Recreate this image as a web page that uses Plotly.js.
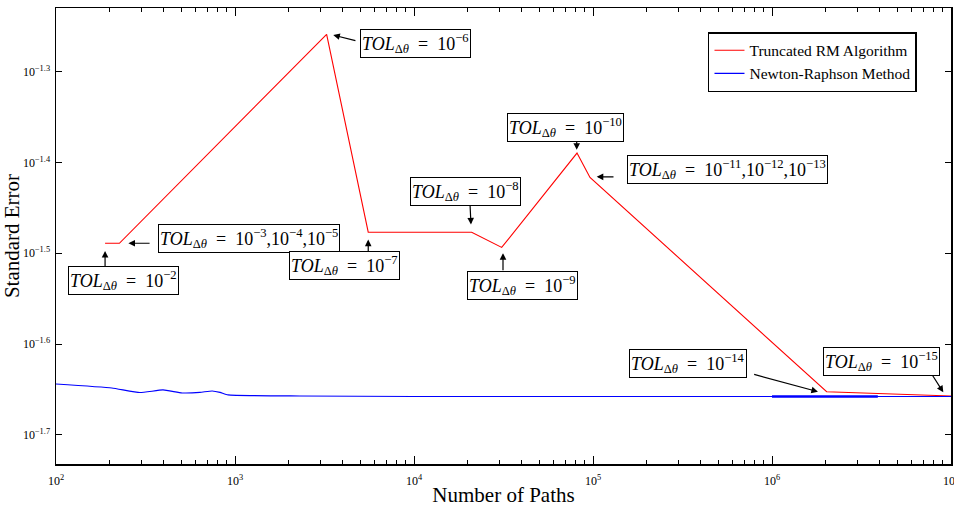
<!DOCTYPE html>
<html>
<head>
<meta charset="utf-8">
<script src="https://cdn.plot.ly/plotly-3.0.1.min.js"></script>
<style>
  html, body { margin: 0; padding: 0; background: #fff; }
  #chart { width: 954px; height: 507px; }
</style>
</head>
<body>
<div id="chart"></div>
<script>
// Standard error of the estimator versus the number of simulated paths.
const rmPaths = [188, 226, 3250, 5550, 21000, 30900, 81400, 96200, 2020000, 10000000];
const rmError = [0.03243, 0.03243, 0.05508, 0.03335, 0.03335, 0.03209, 0.04076, 0.03832, 0.02226, 0.02202];

const nrPaths = [100, 205, 294, 396, 506, 637, 745, 825, 914, 2300, 10000, 100000, 1000000, 10000000];
const nrError = [0.02270, 0.02247, 0.02221, 0.02236, 0.02219, 0.02222, 0.02230, 0.02222, 0.02208, 0.02202, 0.02199, 0.02199, 0.02199, 0.02199];

// Dense stretch of the Newton-Raphson run
const nrDensePaths = [1000000, 3900000];
const nrDenseError = [0.02199, 0.02199];

// Tolerance reached at each marked point of the RM curve
const tolLabels = [
  '10<sup>−2</sup>',
  '10<sup>−3</sup>,10<sup>−4</sup>,10<sup>−5</sup>',
  '10<sup>−6</sup>',
  '10<sup>−7</sup>',
  '10<sup>−8</sup>',
  '10<sup>−9</sup>',
  '10<sup>−10</sup>',
  '10<sup>−11</sup>,10<sup>−12</sup>,10<sup>−13</sup>',
  '10<sup>−14</sup>',
  '10<sup>−15</sup>'
];

const xTickVals = [1e2, 1e3, 1e4, 1e5, 1e6, 1e7];
const xTickText = ['10<sup>2</sup>', '10<sup>3</sup>', '10<sup>4</sup>', '10<sup>5</sup>', '10<sup>6</sup>', '10<sup>7</sup>'];
const yTickVals = [-1.3, -1.4, -1.5, -1.6, -1.7].map(e => Math.pow(10, e));
const yTickText = ['10<sup>−1.3</sup>', '10<sup>−1.4</sup>', '10<sup>−1.5</sup>', '10<sup>−1.6</sup>', '10<sup>−1.7</sup>'];

// minor ticks at 2..9 within every decade
const xMinor = [];
for (let d = 2; d < 7; d++) {
  for (let m = 2; m <= 9; m++) xMinor.push(m * Math.pow(10, d));
}

const SERIF = 'Liberation Serif, Times New Roman, serif';

// arrow placement per label: [xshift, yshift, ax, ay] in pixels relative to the point
const arrowGeom = [
  [0, -7.7, 0, 16.5],
  [9, 0, 22.7, 0],
  [6.6, -0.7, 23.7, 6],
  [0, -7.3, 0, 13.3],
  [-0.7, 7.7, -1, -21],
  [1.3, -5.7, 0, 18.7],
  [-0.3, 3.3, 0, -11.4],
  [6.7, 0.6, 18.3, 0],
  [-8.7, 0, -65.3, -17.7],
  [-7.7, 3.7, -12.3, -19.3]
];
// label box centres in paper coordinates
const boxPos = [
  [0.0749, 0.4035],
  [0.2153, 0.4941],
  [0.4022, 0.9211],
  [0.3218, 0.4346],
  [0.4581, 0.5965],
  [0.5210, 0.3925],
  [0.5698, 0.7379],
  [0.7503, 0.6465],
  [0.7067, 0.2206],
  [0.9218, 0.2237]
];

const annotations = [];
tolLabels.forEach((lab, i) => {
  const g = arrowGeom[i];
  annotations.push({
    x: Math.log10(rmPaths[i]), y: Math.log10(rmError[i]),
    xref: 'x', yref: 'y', text: '',
    showarrow: true, arrowhead: 2, arrowsize: 1.1, arrowwidth: 1.2, arrowcolor: '#000',
    xshift: g[0], yshift: g[1], ax: g[2], ay: g[3], standoff: 0, startstandoff: 0
  });
  annotations.push({
    x: boxPos[i][0], y: boxPos[i][1], xref: 'paper', yref: 'paper',
    xanchor: 'center', yanchor: 'middle', showarrow: false,
    text: '<i>TOL</i><sub>Δ<i>θ</i></sub>&nbsp;&nbsp;=&nbsp;&nbsp;' + lab,
    font: { family: SERIF, size: 18, color: '#000' },
    bgcolor: '#fff', bordercolor: '#000', borderwidth: 1, borderpad: 1
  });
});

const traces = [
  {
    x: rmPaths, y: rmError, type: 'scatter', mode: 'lines',
    name: 'Truncated RM Algorithm',
    line: { color: '#ff0000', width: 1.1 }
  },
  {
    x: nrPaths, y: nrError, type: 'scatter', mode: 'lines',
    name: 'Newton-Raphson Method',
    line: { color: '#0000ff', width: 1.1, shape: 'spline', smoothing: 0.4 }
  },
  {
    x: nrDensePaths, y: nrDenseError, type: 'scatter', mode: 'lines',
    showlegend: false, hoverinfo: 'skip',
    line: { color: '#0000ff', width: 2.4 }
  }
];

const layout = {
  width: 954, height: 507,
  margin: { l: 56, r: 3, t: 8, b: 43 },
  paper_bgcolor: '#fff', plot_bgcolor: '#fff',
  font: { family: SERIF, color: '#000' },
  showlegend: true,
  legend: {
    x: 0.962, y: 0.947, xanchor: 'right', yanchor: 'top',
    bgcolor: '#fff', bordercolor: '#000', borderwidth: 1.5,
    font: { family: SERIF, size: 15.5, color: '#000' },
    itemwidth: 30, tracegroupgap: 0
  },
  xaxis: {
    type: 'log', range: [2, 7],
    showgrid: false, zeroline: false,
    showline: true, linecolor: '#000', linewidth: 1.5, mirror: 'allticks',
    ticks: 'inside', ticklen: 8, tickwidth: 1, tickcolor: '#000',
    tickmode: 'array', tickvals: xTickVals, ticktext: xTickText,
    ticklabeloverflow: 'allow', ticklabelstandoff: 5,
    tickfont: { family: SERIF, size: 12, color: '#000' },
    minor: { tickmode: 'array', tickvals: xMinor, ticks: 'inside', ticklen: 4, tickwidth: 1, tickcolor: '#000', showgrid: false },
    title: { text: 'Number of Paths', font: { family: SERIF, size: 21, color: '#000' }, standoff: 0 }
  },
  yaxis: {
    type: 'log', range: [-1.7321, -1.230],
    showgrid: false, zeroline: false,
    showline: true, linecolor: '#000', linewidth: 1.5, mirror: 'allticks',
    ticks: 'inside', ticklen: 6, tickwidth: 1, tickcolor: '#000',
    tickmode: 'array', tickvals: yTickVals, ticktext: yTickText,
    ticklabelstandoff: 2,
    tickfont: { family: SERIF, size: 12, color: '#000' },
    title: { text: 'Standard Error', font: { family: SERIF, size: 21, color: '#000' }, standoff: 5 }
  },
  annotations: annotations
};

Plotly.newPlot('chart', traces, layout, { displayModeBar: false, staticPlot: true });
</script>
</body>
</html>
